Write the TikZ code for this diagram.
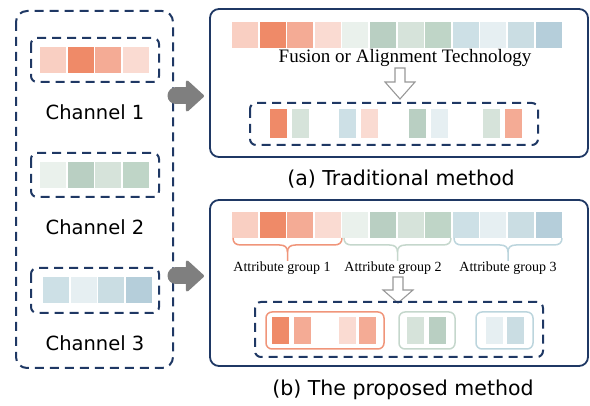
\documentclass[tikz,border=0pt]{standalone}
\usepackage{fontspec}
\setmainfont{Liberation Serif}
\newfontfamily\handfont{DejaVu Sans}
\usetikzlibrary{arrows.meta}

\definecolor{navy}{HTML}{1F3864}
\definecolor{arrgray}{HTML}{7F7F7F}
\definecolor{o1}{HTML}{F9CFC2}
\definecolor{o2}{HTML}{EF8A68}
\definecolor{o3}{HTML}{F4AB95}
\definecolor{o4}{HTML}{FADBD2}
\definecolor{g1}{HTML}{EAF1EC}
\definecolor{g2}{HTML}{B9CFC2}
\definecolor{g3}{HTML}{D6E3DA}
\definecolor{g4}{HTML}{BFD5C7}
\definecolor{b1}{HTML}{CDE0E6}
\definecolor{b2}{HTML}{E6EFF2}
\definecolor{b3}{HTML}{CADDE3}
\definecolor{b4}{HTML}{B5CEDA}
\definecolor{obrd}{HTML}{F0957A}
\definecolor{gbrd}{HTML}{C5D7CC}
\definecolor{bbrd}{HTML}{BCD5DD}

% x1, x2, colour
\newcommand\attrbrace[3]{%
\draw[#3, line width=1.5pt] (#1,238) .. controls (#1,243) and (#1+3,245) .. (#1+8,245)
  -- ({(#1+#2)/2-8},245) .. controls ({(#1+#2)/2-3},245) and ({(#1+#2)/2},247) .. ({(#1+#2)/2},252)
  -- ({(#1+#2)/2},261);
\draw[#3, line width=1.5pt] (#2,238) .. controls (#2,243) and (#2-3,245) .. (#2-8,245)
  -- ({(#1+#2)/2+8},245) .. controls ({(#1+#2)/2+3},245) and ({(#1+#2)/2},247) .. ({(#1+#2)/2},252);
}
% centre x, top y, head y, tip y
\newcommand\hollowdown[4]{%
\draw[arrgray!80, line width=1.1pt, fill=white, line join=miter]
  (#1-5,#2) -- (#1+5,#2) -- (#1+5,#3) -- (#1+15,#3) -- (#1,#4)
  -- (#1-15,#3) -- (#1-5,#3) -- cycle;
}

\tikzset{
  dashbox/.style={draw=navy, line width=2pt, dash pattern=on 9pt off 6pt, rounded corners=6pt},
  solidbox/.style={draw=navy, line width=1.8pt, rounded corners=9pt},
  grpbox/.style={line width=1.5pt, rounded corners=6pt},
  chlabel/.style={font=\handfont\fontsize{19.5}{24}\selectfont},
  caplabel/.style={font=\handfont\fontsize{20.5}{24}\selectfont},
  attrlabel/.style={font=\fontsize{14}{16}\selectfont},
  bigarrow/.style={draw=arrgray, line width=17pt, line cap=round,
    -{Triangle[length=19pt,width=34pt,line width=3pt,round]}}
}

\begin{document}
\begin{tikzpicture}[x=1pt,y=-1pt]
\useasboundingbox (0,0) rectangle (590,406);

% channels
\draw[dashbox, rounded corners=11pt] (16,11) rectangle (173,368);
\draw[dashbox] (31,38) rectangle (159,82);
\foreach \c [count=\i from 0] in {o1,o2,o3,o4}
  \fill[\c] (40+\i*27.5,47) rectangle ++(26,26);
\node[chlabel] (ch1) at (95,112) {Channel 1};
\draw[dashbox] (31,153) rectangle (159,197);
\foreach \c [count=\i from 0] in {g1,g2,g3,g4}
  \fill[\c] (40+\i*27.5,162) rectangle ++(26,26);
\node[chlabel] (ch2) at (95,227) {Channel 2};
\draw[dashbox] (31,268) rectangle (159,313);
\foreach \c [count=\i from 0] in {b1,b2,b3,b4}
  \fill[\c] (43+\i*27.5,277) rectangle ++(26,26);
\node[chlabel] (ch3) at (95,343) {Channel 3};

\coordinate (from1) at (176,96);
\coordinate (to1) at (204,96);
\draw[bigarrow] (from1) -- (to1);
\coordinate (from2) at (176,276);
\coordinate (to2) at (204,276);
\draw[bigarrow] (from2) -- (to2);

% (a)
\draw[solidbox] (210,9) rectangle (588,157);
\foreach \c [count=\i from 0] in {o1,o2,o3,o4,g1,g2,g3,g4,b1,b2,b3,b4}
  \fill[\c] (232+\i*27.6,22) rectangle ++(26,26);
\node[font=\fontsize{19}{22}\selectfont] (fusion) at (405,58) {Fusion or Alignment Technology};
\hollowdown{400}{68}{82}{99}
\draw[dashbox] (250,103) rectangle (538,145);
\foreach \x/\c in {270/o2,292/g3,339/b1,361/o4,409/g2,431/b2,483/g3,505/o3}
  \fill[\c] (\x,109) rectangle ++(17,29);
\node[caplabel] (capa) at (401,179) {(a) Traditional method};

% (b)
\draw[solidbox] (210,200) rectangle (588,366);
\foreach \c [count=\i from 0] in {o1,o2,o3,o4,g1,g2,g3,g4,b1,b2,b3,b4}
  \fill[\c] (232+\i*27.6,212) rectangle ++(26,26);
\attrbrace{233}{342}{obrd}
\attrbrace{344}{451}{gbrd}
\attrbrace{454}{562}{bbrd}
\node[attrlabel] (grp1) at (282,268) {Attribute group 1};
\node[attrlabel] (grp2) at (393,268) {Attribute group 2};
\node[attrlabel] (grp3) at (508,268) {Attribute group 3};
\hollowdown{398}{277}{290}{303}
\draw[dashbox] (255,302) rectangle (543,357);
\draw[grpbox, draw=obrd] (266,312) rectangle (384,349);
\draw[grpbox, draw=gbrd] (399,312) rectangle (455,349);
\draw[grpbox, draw=bbrd] (476,312) rectangle (533,349);
\foreach \x/\c in {272/o2,294/o3,339/o4,359/o3,407/g3,429/g2,486/b2,507/b3}
  \fill[\c] (\x,317) rectangle ++(17,27);
\node[caplabel] (capb) at (403,390) {(b) The proposed method};
\end{tikzpicture}
\end{document}
